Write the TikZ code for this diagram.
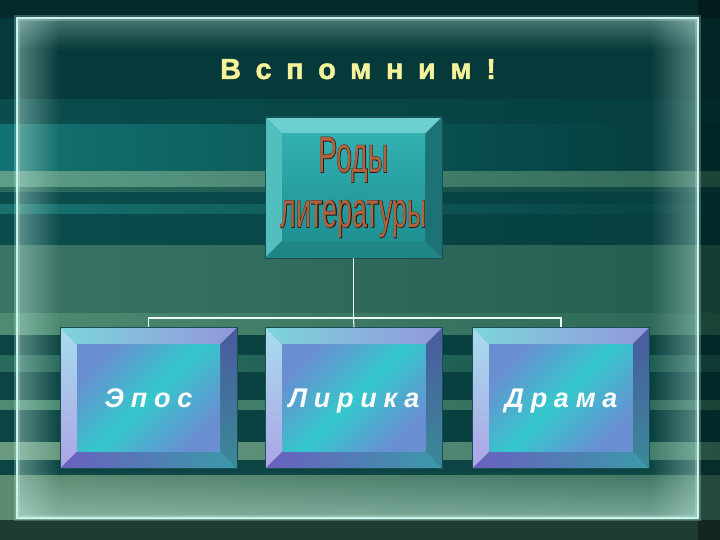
\documentclass[tikz,border=0pt]{standalone}
\usepackage{fontspec}
\setmainfont{Liberation Sans}
\newfontfamily\titlefont[LetterSpace=50,FakeBold=1.5]{Liberation Sans}
\newfontfamily\vidfont[LetterSpace=25]{Liberation Sans}
\newfontfamily\rimfont[FakeBold=2.2]{Liberation Sans}
\usepackage{graphicx}
\usetikzlibrary{calc,fadings}

% background
\definecolor{bgtop}{HTML}{06393A}
\definecolor{sAl}{HTML}{0B4D4D}\definecolor{sAr}{HTML}{053E3E}
\definecolor{sBl}{HTML}{137272}\definecolor{sBr}{HTML}{043A3A}
\definecolor{sCl}{HTML}{5D9E88}\definecolor{sCr}{HTML}{2E6656}
\definecolor{sDl}{HTML}{2C6C60}\definecolor{sDr}{HTML}{0A4440}
\definecolor{sEl}{HTML}{177270}\definecolor{sEr}{HTML}{064040}
\definecolor{sFl}{HTML}{3A7464}\definecolor{sFr}{HTML}{225E50}
\definecolor{sGl}{HTML}{4D8C72}\definecolor{sGr}{HTML}{2A6656}
\definecolor{sHl}{HTML}{2A6A5C}\definecolor{sHr}{HTML}{1A5A50}
\definecolor{sIl}{HTML}{6A9A80}\definecolor{sIr}{HTML}{3E7A68}
\definecolor{sJl}{HTML}{5A8A70}\definecolor{sJr}{HTML}{3A7060}
\definecolor{sdark}{HTML}{0B4442}
\definecolor{sfoot}{HTML}{1E3C32}
\definecolor{framecol}{HTML}{C8F4EC}
\definecolor{glowcol}{HTML}{BFE8DC}
% boxes
\definecolor{titleyellow}{HTML}{F6F29A}
\definecolor{linkwhite}{HTML}{EAF8F8}
\definecolor{boxedge}{HTML}{1A4E54}
\definecolor{rTop}{HTML}{6CD0D0}\definecolor{rLeft}{HTML}{52BEBE}
\definecolor{rRight}{HTML}{1C7274}\definecolor{rBot}{HTML}{1F8585}
\definecolor{rFaceA}{HTML}{32B0B2}\definecolor{rFaceB}{HTML}{1E9092}
\definecolor{vTopA}{HTML}{7CD6DC}\definecolor{vTopB}{HTML}{9496DC}
\definecolor{vLeftA}{HTML}{A8DCEC}\definecolor{vLeftB}{HTML}{ACA4E6}
\definecolor{vRightA}{HTML}{4A5AA0}\definecolor{vRightB}{HTML}{3A8A98}
\definecolor{vBotA}{HTML}{6A60C0}\definecolor{vBotB}{HTML}{3A9AA8}
\definecolor{vFaceP}{HTML}{6A8ED2}\definecolor{vFaceC}{HTML}{34C8CC}
\definecolor{wordfill}{HTML}{B0623F}\definecolor{wordline}{HTML}{2A1A10}

\tikzfading[name=glowE, left color=transparent!20, right color=transparent!100]
\tikzfading[name=glowW, left color=transparent!100, right color=transparent!20]
\tikzfading[name=glowS, top color=transparent!20, bottom color=transparent!100]
\tikzfading[name=glowN, top color=transparent!100, bottom color=transparent!20]

% four bevels and a face, drawn inside a node
\newcommand\bevelpaint[5]{%
  \coordinate (bA) at (path picture bounding box.north west);
  \coordinate (bB) at (path picture bounding box.north east);
  \coordinate (bC) at (path picture bounding box.south east);
  \coordinate (bD) at (path picture bounding box.south west);
  \coordinate (ba) at ($(bA)+(17pt,-17pt)$);
  \coordinate (bb) at ($(bB)+(-17pt,-17pt)$);
  \coordinate (bc) at ($(bC)+(-17pt,17pt)$);
  \coordinate (bd) at ($(bD)+(17pt,17pt)$);
  \path[#1] (bA) -- (bB) -- (bb) -- (ba) -- cycle;
  \path[#2] (bA) -- (ba) -- (bd) -- (bD) -- cycle;
  \path[#3] (bB) -- (bC) -- (bc) -- (bb) -- cycle;
  \path[#4] (bD) -- (bd) -- (bc) -- (bC) -- cycle;
  \path[#5] (ba) rectangle (bc);}

% dark rim under brown letters
\newcommand\wordart[1]{\rlap{\rimfont\textcolor{wordline}{#1}}\textcolor{wordfill}{#1}}

\begin{document}
\begin{tikzpicture}[x=1pt,y=-1pt,
  link/.style={draw=linkwhite,line width=1.1pt},
  basebox/.style={minimum width=177pt,minimum height=141pt,inner sep=0pt,
    draw=boxedge,line width=.5pt},
  rodbox/.style={basebox,font=\fontsize{10}{10}\selectfont,align=center,
    path picture={\bevelpaint{fill=rTop}{fill=rLeft}{fill=rRight}{fill=rBot}
      {top color=rFaceA,bottom color=rFaceB}}},
  vidbox/.style={basebox,text=white,text height=19pt,text depth=0pt,
    font=\vidfont\bfseries\itshape\fontsize{27}{29}\selectfont,
    path picture={\bevelpaint{left color=vTopA,right color=vTopB}
      {top color=vLeftA,bottom color=vLeftB}{top color=vRightA,bottom color=vRightB}
      {left color=vBotA,right color=vBotB}
      {top color=vFaceP,bottom color=vFaceP,middle color=vFaceC,shading angle=45}}}
]
\useasboundingbox (0,0) rectangle (720,540);

% stripes
\fill[bgtop] (0,0) rectangle (720,540);
\foreach \ya/\yb/\cl/\cr in {100/125/sAl/sAr, 125/172/sBl/sBr, 172/188/sCl/sCr,
    188/193/sDl/sDr, 193/205/sAl/sAr, 205/215/sEl/sEr, 215/245/sAl/sAr,
    245/313/sFl/sFr, 313/335/sGl/sGr, 335/355/sdark/sAr, 355/372/sHl/sHr,
    372/400/sdark/sAr, 400/410/sGl/sGr, 410/442/sdark/sAr, 442/460/sIl/sIr,
    460/475/sdark/sdark, 475/520/sJl/sJr, 520/540/sfoot/sfoot}
  \shade[left color=\cl,right color=\cr] (0,\ya) rectangle (720,\yb);
\fill[black,opacity=.35] (698,0) rectangle (720,540);
\fill[black,opacity=.25] (0,0) rectangle (720,18);

% glowing frame
\fill[glowcol,path fading=glowE,opacity=.55] (17,18) rectangle (60,518);
\fill[glowcol,path fading=glowW,opacity=.55] (650,18) rectangle (698,518);
\fill[glowcol,path fading=glowS,opacity=.45] (17,18) rectangle (698,50);
\fill[glowcol,path fading=glowN,opacity=.55] (17,470) rectangle (698,518);
\draw[framecol,opacity=.25,line width=6pt] (17,18) rectangle (698,518);
\draw[framecol,line width=1.6pt] (17,18) rectangle (698,518);

\node[font=\titlefont\bfseries\fontsize{29}{32}\selectfont,text=titleyellow,
  anchor=base] (title) at (358,79) {Вспомним!};

\node[rodbox] (rody) at (353.5,187.5)
  {\resizebox{70pt}{35pt}{\wordart{Роды}}\\[17pt]%
   \resizebox{146pt}{27pt}{\wordart{литературы}}};

\node[vidbox] (epos) at (148.5,398) {Эпос};
\node[vidbox] (lira) at (354,398) {Лирика};
\node[vidbox] (drama) at (561,398) {Драма};

\coordinate (fork) at (rody.south |- 0,318);
\draw[link] (rody.south) -- (fork) -| (epos.north);
\draw[link] (fork) -- (lira.north);
\draw[link] (fork) -| (drama.north);
\end{tikzpicture}
\end{document}
